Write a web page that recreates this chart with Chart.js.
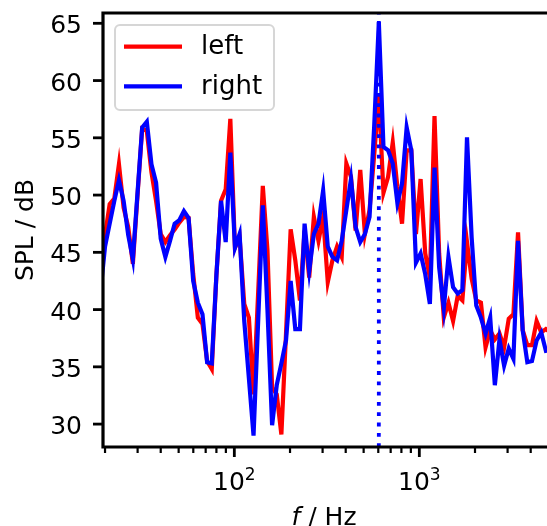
<!DOCTYPE html>
<html><head><meta charset="utf-8">
<script src="https://cdn.jsdelivr.net/npm/chart.js@4/dist/chart.umd.min.js"></script>
<style>html,body{margin:0;padding:0;background:#fff;overflow:hidden}canvas{display:block}</style>
</head><body>
<canvas id="c" width="547" height="526"></canvas>
<script>
// 1/12-octave frequency grid (Hz)
const freqHz = [18.88,20.00,21.19,22.45,23.78,25.20,26.70,28.28,29.97,31.75,33.64,35.64,37.75,40.00,42.38,44.90,47.57,50.40,53.39,56.57,59.93,63.50,67.27,71.27,75.51,80.00,84.76,89.80,95.14,100.79,106.78,113.14,119.87,127.00,134.54,142.54,151.02,160.00,169.52,179.59,190.27,201.59,213.57,226.27,239.73,253.98,269.09,285.09,302.04,320.00,339.03,359.19,380.55,403.17,427.15,452.55,479.46,507.96,538.17,570.17,604.07,640.00,678.06,718.38,761.09,806.35,854.30,905.10,958.92,1015.94,1076.34,1140.35,1208.15,1280.00,1356.11,1436.75,1522.19,1612.70,1708.60,1810.19,1917.83,2031.87,2152.69,2280.70,2416.31,2560.00,2712.22,2873.50,3044.37,3225.40,3417.19,3620.39,3835.66,4063.75,4305.38,4561.40,4832.63,5120.00];
// SPL of the left channel (dB)
const leftSPL = [42.0,46.5,49.2,49.7,52.7,48.9,47.2,44.0,50.0,55.8,55.6,52.0,49.5,46.6,45.9,46.5,47.0,47.6,48.1,48.0,43.1,39.3,38.75,35.5,34.8,43.0,49.5,50.5,56.65,45.4,46.3,40.5,39.3,32.6,41.5,50.8,45.2,33.2,32.6,29.1,37.9,47.0,44.3,40.8,46.9,42.8,48.1,46.0,48.1,42.4,44.3,45.5,44.6,52.75,51.6,46.9,52.2,46.6,48.7,53.5,58.7,50.2,51.6,54.6,50.7,47.5,53.9,53.9,46.6,51.4,44.9,42.8,56.9,44.9,39.3,40.6,39.0,41.2,40.8,45.9,42.7,40.8,40.6,36.7,38.2,37.4,37.9,36.7,39.2,39.6,46.75,38.2,36.9,36.9,39.0,38.0,38.3,38.0];
// SPL of the right channel (dB)
const rightSPL = [41.5,45.5,47.5,49.5,51.3,49.5,46.5,44.4,50.2,55.9,56.4,52.7,51.1,46.2,44.6,46.0,47.5,47.8,48.6,48.0,42.5,40.6,39.6,35.4,35.3,43.0,49.5,45.9,53.7,45.4,46.6,39.0,34.0,29.0,39.0,49.1,40.0,29.9,33.4,35.3,37.3,42.5,38.3,38.3,47.5,43.4,46.6,47.5,50.4,45.5,44.6,44.3,46.0,48.7,51.4,47.2,45.9,46.6,48.1,56.0,65.1,54.2,53.9,52.75,49.3,51.0,55.9,53.9,44.1,44.9,43.1,40.5,52.4,43.7,40.1,44.6,41.95,41.4,41.7,55.05,46.3,40.35,39.3,37.9,39.3,33.4,37.4,35.1,36.6,35.7,46.0,38.2,35.4,35.5,37.3,38.0,36.4,36.5];
const seriesNames = ['left', 'right'];
const peakFreqHz = [604.07];
const yRange = [28.0, 65.9];
const xRange = [19.5, 4900];
const yTicks = [30, 35, 40, 45, 50, 55, 60, 65];
const yTickLabels = ['30', '35', '40', '45', '50', '55', '60', '65'];
const xTicks = [20,30,40,50,60,70,80,90,100,200,300,400,500,600,700,800,900,1000,2000,3000,4000];
const xMajorTicks = [100, 1000];
const xMajorBase = ['10', '10'];
const xMajorExp = ['2', '3'];
const xTitle = ['f', ' / Hz'];
const yTitle = 'SPL / dB';

const FONT = '"DejaVu Sans", sans-serif';
const LW = 4.2;

const mplPlugin = {
  id: 'mpl',
  afterDatasetsDraw(chart) {
    const {ctx, chartArea: a, scales: {x, y}} = chart;
    ctx.save();
    ctx.strokeStyle = '#000';
    ctx.fillStyle = '#000';
    ctx.lineCap = 'butt';
    // spines
    ctx.lineWidth = 3.2;
    ctx.lineJoin = 'miter';
    ctx.beginPath();
    ctx.moveTo(a.right + 10, a.top);
    ctx.lineTo(a.left, a.top);
    ctx.lineTo(a.left, a.bottom);
    ctx.lineTo(a.right + 10, a.bottom);
    ctx.stroke();
    // y ticks + labels
    ctx.font = '25px ' + FONT;
    ctx.textAlign = 'right';
    ctx.textBaseline = 'alphabetic';
    yTicks.forEach((v, i) => {
      const py = y.getPixelForValue(v);
      ctx.lineWidth = 2.8;
      ctx.beginPath(); ctx.moveTo(a.left - 10, py); ctx.lineTo(a.left, py); ctx.stroke();
      ctx.fillText(yTickLabels[i], 82, py + 10);
    });
    // x ticks
    xTicks.forEach(v => {
      const px = x.getPixelForValue(v);
      const major = xMajorTicks.includes(v);
      ctx.lineWidth = major ? 2.8 : 2.2;
      ctx.beginPath(); ctx.moveTo(px, a.bottom); ctx.lineTo(px, a.bottom + (major ? 10 : 6)); ctx.stroke();
    });
    // x tick labels (10^n)
    ctx.textAlign = 'left';
    xMajorTicks.forEach((v, i) => {
      const px = x.getPixelForValue(v);
      ctx.font = '25px ' + FONT;
      const wb = ctx.measureText(xMajorBase[i]).width;
      ctx.font = '17px ' + FONT;
      const we = ctx.measureText(xMajorExp[i]).width;
      const x0 = px - (wb + we) / 2;
      ctx.font = '25px ' + FONT;
      ctx.fillText(xMajorBase[i], x0, 490);
      ctx.font = '17px ' + FONT;
      ctx.fillText(xMajorExp[i], x0 + wb, 480);
    });
    // x title
    ctx.font = 'italic 25px ' + FONT;
    const w1 = ctx.measureText(xTitle[0]).width;
    ctx.font = '25px ' + FONT;
    const w2 = ctx.measureText(xTitle[1]).width;
    const cx = (a.left + a.right) / 2 - 1;
    const tx = cx - (w1 + w2) / 2;
    ctx.font = 'italic 25px ' + FONT;
    ctx.fillText(xTitle[0], tx, 525);
    ctx.font = '25px ' + FONT;
    ctx.fillText(xTitle[1], tx + w1, 525);
    // y title
    ctx.save();
    ctx.translate(33, (a.top + a.bottom) / 2);
    ctx.rotate(-Math.PI / 2);
    ctx.textAlign = 'center';
    ctx.fillText(yTitle, 0, 0);
    ctx.restore();
    // legend
    const L = 115, T = 25, R = 274, B = 110;
    ctx.beginPath();
    if (ctx.roundRect) ctx.roundRect(L, T, R - L, B - T, 5); else ctx.rect(L, T, R - L, B - T);
    ctx.fillStyle = 'rgba(255,255,255,0.8)';
    ctx.fill();
    ctx.strokeStyle = '#d6d6d6';
    ctx.lineWidth = 2;
    ctx.stroke();
    const rows = [46.7, 86.3];
    ctx.textAlign = 'left';
    chart.data.datasets.slice(0, 2).forEach((ds, i) => {
      ctx.strokeStyle = ds.borderColor;
      ctx.lineWidth = ds.borderWidth;
      ctx.beginPath(); ctx.moveTo(124, rows[i]); ctx.lineTo(182, rows[i]); ctx.stroke();
      ctx.fillStyle = '#000';
      ctx.font = '26px ' + FONT;
      ctx.textBaseline = 'middle';
      ctx.fillText(ds.label, 201, rows[i] + 1);
    });
    ctx.restore();
  }
};

const toPts = arr => freqHz.map((f, i) => ({x: f, y: arr[i]}));

new Chart(document.getElementById('c'), {
  type: 'line',
  data: {
    datasets: [
      {label: seriesNames[0], data: toPts(leftSPL), borderColor: '#ff0000', borderWidth: LW, pointRadius: 0, tension: 0, order: 3, clip: 0},
      {label: seriesNames[1], data: toPts(rightSPL), borderColor: '#0000ff', borderWidth: LW, pointRadius: 0, tension: 0, order: 2, clip: 0},
      {label: 'peak', data: [{x: peakFreqHz[0], y: yRange[0]}, {x: peakFreqHz[0], y: yRange[1]}], borderColor: '#0000ff', borderWidth: 3.8, borderDash: [3.8, 6.5], borderCapStyle: 'butt', pointRadius: 0, order: 1, clip: 0}
    ]
  },
  options: {
    responsive: false,
    animation: false,
    devicePixelRatio: 1,
    layout: {padding: {top: 13, left: 0, right: 0, bottom: 0}},
    plugins: {legend: {display: false}, tooltip: {enabled: false}},
    scales: {
      x: {
        type: 'logarithmic', min: xRange[0], max: xRange[1],
        grid: {display: false, drawTicks: false}, border: {display: false},
        ticks: {display: false},
        afterBuildTicks: s => { s.ticks = xTicks.map(v => ({value: v})); },
        afterFit: s => { s.height = 79; }
      },
      y: {
        type: 'linear', min: yRange[0], max: yRange[1],
        grid: {display: false, drawTicks: false}, border: {display: false},
        ticks: {display: false},
        afterBuildTicks: s => { s.ticks = yTicks.map(v => ({value: v})); },
        afterFit: s => { s.width = 103; }
      }
    }
  },
  plugins: [mplPlugin]
});
</script>
</body></html>
